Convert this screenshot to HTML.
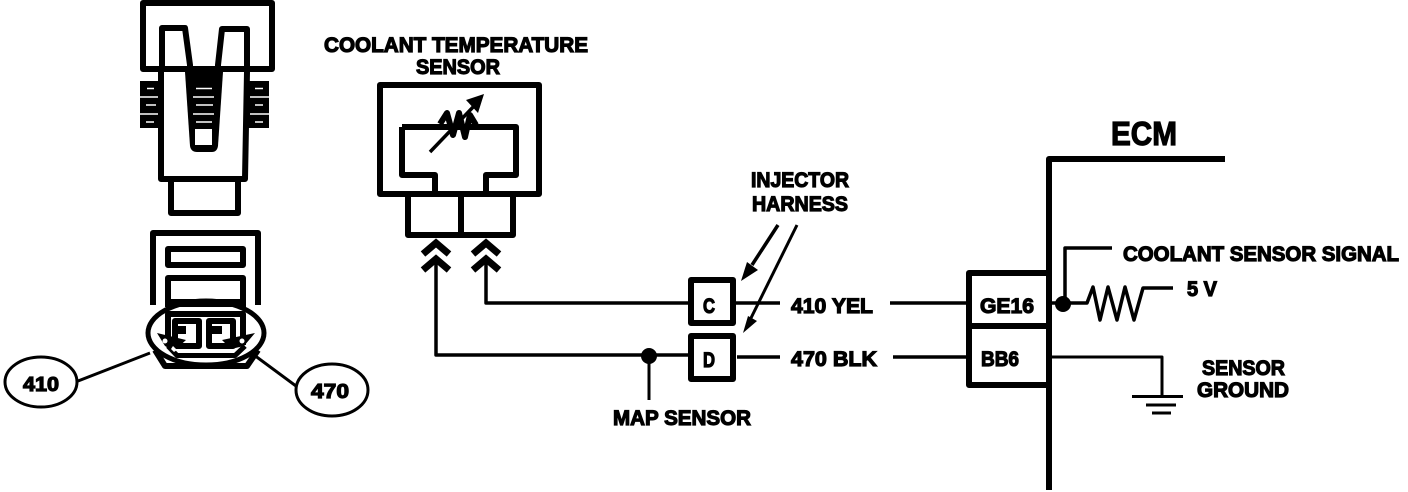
<!DOCTYPE html>
<html>
<head>
<meta charset="utf-8">
<style>
html,body{margin:0;padding:0;background:#fff}
svg{display:block}
text{font-family:"Liberation Sans",sans-serif;font-weight:bold;fill:#000;stroke:#000;stroke-width:1.200}
</style>
</head>
<body>
<svg width="1408" height="492" viewBox="0 0 1408 492" xmlns="http://www.w3.org/2000/svg">
<g fill="none" stroke="#000" stroke-width="6" stroke-linejoin="round">
  <!-- top connector -->
  <rect x="143" y="3" width="129" height="66"/>
  <path d="M162 69V28H185L190 65V80M247 69V29H222L218 65V80"/>
  <path d="M161 72V179H245L247 72M171 181V213H238V181"/>
  <g fill="#000" stroke="none">
    <rect x="140" y="81" width="20" height="47"/>
    <rect x="248" y="81" width="21" height="47"/>
    <path d="M185 72H223L218 146Q217 152 212 152H197Q191 152 190 146Z"/>
  </g>
  <g stroke="#fff" stroke-width="1.500">
    <path d="M140 97H158M140 114H158M250 97H269M250 114H269"/>
    <path d="M147 88.500H154M146 105H156M146 122H154M255 88.500H263M255 105H263M255 122H263"/>
    <path d="M196 88.500H212M193 97H214M196 105H213M193 114H214M196 122H212"/>
  </g>
  <rect x="195" y="129" width="17" height="16" fill="#fff" stroke="none"/>

  <!-- lower connector -->
  <path d="M153 305V233H258V305"/>
  <rect x="168" y="249" width="75" height="16"/>
  <path d="M168 303V278H243V303"/>
  <rect x="165" y="299" width="81" height="8" fill="#000" stroke="none"/>
  <path d="M168 345V314H243V345"/>
  <path d="M155 350L165 366H247L258 350"/>
  <path d="M168 346L177 355.500H235L245 346" stroke-width="5"/>
  <rect x="175" y="321" width="24" height="25" stroke-width="6"/>
  <rect x="209" y="321" width="24" height="25" stroke-width="6"/>
  <ellipse cx="206" cy="333" rx="58" ry="32" stroke-width="5"/>
  <g fill="#000" stroke="none">
    <path d="M157 333L186 340L174 351L165 346Z"/>
    <path d="M255 333L222 340L231 349L244 346Z"/>
    <path d="M178 326H186V334H178ZM212 326H222V334H212Z"/>
  </g>
  <g fill="#fff" stroke="none">
    <circle cx="165" cy="341" r="2.500"/>
    <circle cx="242" cy="341" r="2.500"/>
    <path d="M173 346l4 4l-3 2l-3-3z"/>
  </g>

  <!-- ovals -->
  <g stroke-width="3">
    <ellipse cx="41" cy="382" rx="36" ry="25"/>
    <ellipse cx="332" cy="390" rx="36" ry="26"/>
    <path d="M78 381L150 353M296 386L254 355"/>
  </g>

  <!-- coolant sensor -->
  <rect x="380" y="85" width="159" height="109"/>
  <path d="M402 127H516V175H486V194M402 127V175H435V194"/>
  <path d="M408 197V235H513V197M461 197V235"/>
  <path d="M423 254L436 243L449 254M423 270L436 259L449 270M473 254L486 243L499 254M473 270L486 259L499 270" stroke-width="7" stroke-linejoin="miter"/>
  <path d="M436 262V355H690M486 262V303H690" stroke-width="3.500"/>

  <!-- resistor in sensor -->
  <path d="M440 124L447 113L453 135L459 113L465 137L470 115L476 125" stroke-width="6"/>
  <path d="M430 152L476 104" stroke-width="3.500"/>

  <!-- C D connectors -->
  <rect x="691" y="280" width="42" height="43"/>
  <rect x="691" y="336" width="42" height="43"/>
  <path d="M736 303H780M890 303H968M737 357H780M893 357H968" stroke-width="3.500"/>
  <path d="M649 356V400" stroke-width="3"/>

  <!-- harness arrows -->
  <path d="M778 225L752 265" stroke-width="3.500"/>
  <path d="M797 225L751 318" stroke-width="3"/>

  <!-- ECM -->
  <path d="M1225 159H1049V490"/>
  <path d="M1046 273H969V385H1046M969 326H1046"/>
  <path d="M1065 304V248H1112" stroke-width="3.500"/>
  <path d="M1052 303H1087L1093 287L1100 320L1108 287L1117 320L1125 287L1134 320L1143 288H1173" stroke-width="3.500"/>
  <path d="M1052 357H1162V397M1132 396.500H1183M1146 405H1176M1152 413H1171" stroke-width="3"/>
</g>

<g fill="#000" stroke="none">
  <path d="M484 94L466 100L478 113Z"/>
  <path d="M741 281L747 262L758 270Z"/>
  <path d="M743 333L748 316L757 321Z"/>
  <circle cx="649" cy="356" r="8"/>
  <circle cx="1063" cy="304" r="8"/>
</g>

<text x="324" y="52" font-size="21" textLength="264" lengthAdjust="spacingAndGlyphs">COOLANT TEMPERATURE</text>
<text x="416" y="74" font-size="21" textLength="84" lengthAdjust="spacingAndGlyphs">SENSOR</text>
<text x="23" y="391" font-size="20" textLength="36" lengthAdjust="spacingAndGlyphs">410</text>
<text x="311" y="398" font-size="20" textLength="38" lengthAdjust="spacingAndGlyphs">470</text>
<text x="751" y="187" font-size="21" textLength="98" lengthAdjust="spacingAndGlyphs">INJECTOR</text>
<text x="752" y="211" font-size="21" textLength="96" lengthAdjust="spacingAndGlyphs">HARNESS</text>
<text x="703" y="313" font-size="21" textLength="12" lengthAdjust="spacingAndGlyphs">C</text>
<text x="703" y="367" font-size="21" textLength="12" lengthAdjust="spacingAndGlyphs">D</text>
<text x="791" y="313" font-size="21" textLength="82" lengthAdjust="spacingAndGlyphs">410 YEL</text>
<text x="791" y="366" font-size="21" textLength="86" lengthAdjust="spacingAndGlyphs">470  BLK</text>
<text x="613" y="425" font-size="21" textLength="138" lengthAdjust="spacingAndGlyphs">MAP SENSOR</text>
<text x="1111" y="145" font-size="33" textLength="66" lengthAdjust="spacingAndGlyphs">ECM</text>
<text x="980" y="313" font-size="21" textLength="54" lengthAdjust="spacingAndGlyphs">GE16</text>
<text x="981" y="366" font-size="21" textLength="38" lengthAdjust="spacingAndGlyphs">BB6</text>
<text x="1123" y="261" font-size="21" textLength="276" lengthAdjust="spacingAndGlyphs">COOLANT SENSOR SIGNAL</text>
<text x="1187" y="296" font-size="21" textLength="30" lengthAdjust="spacingAndGlyphs">5 V</text>
<text x="1202" y="375" font-size="21" textLength="83" lengthAdjust="spacingAndGlyphs">SENSOR</text>
<text x="1197" y="397" font-size="21" textLength="92" lengthAdjust="spacingAndGlyphs">GROUND</text>
</svg>
</body>
</html>
